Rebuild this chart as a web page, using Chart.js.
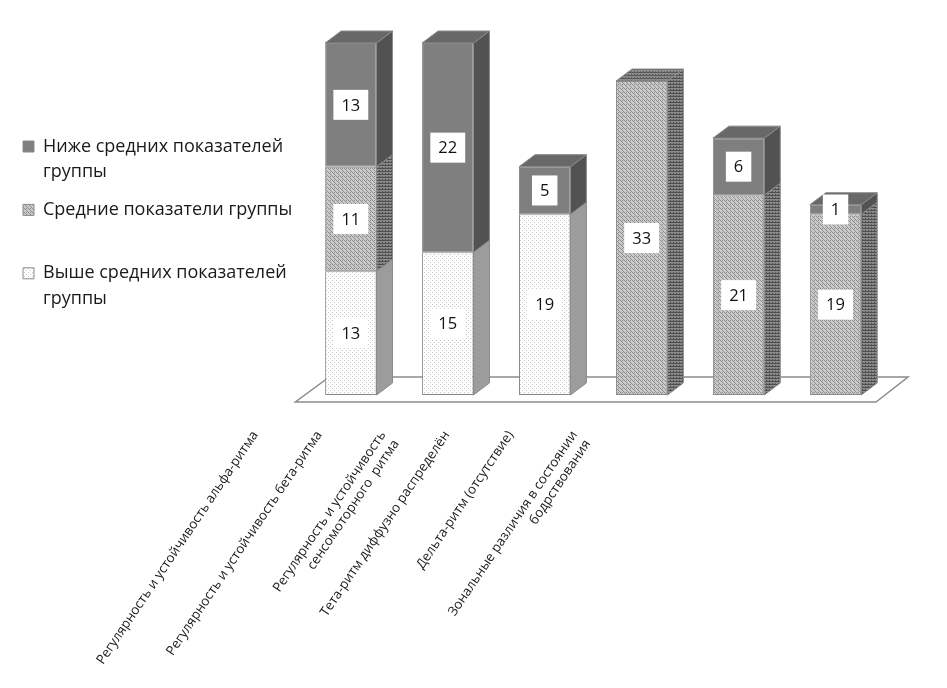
<!DOCTYPE html>
<html>
<head>
<meta charset="utf-8">
<script src="https://cdn.jsdelivr.net/npm/chart.js@4"></script>
<style>
  html, body { margin: 0; padding: 0; background: #fff; }
  #wrap { width: 947px; height: 688px; position: relative; }
</style>
</head>
<body>
<div id="wrap"><canvas id="myChart"></canvas></div>
<script>
// Categories (x axis labels)
const categories = [
  ['Регулярность и устойчивость альфа-ритма'],
  ['Регулярность и устойчивость бета-ритма'],
  ['Регулярность и устойчивость', 'сенсомоторного  ритма'],
  ['Тета-ритм диффузно распределён'],
  ['Дельта-ритм (отсутствие)'],
  ['Зональные различия в состоянии', 'бодрствования']
];

// Series names (bottom to top of the stack)
const seriesNames = [
  'Выше средних показателей группы',
  'Средние показатели группы',
  'Ниже средних показателей группы'
];
// Legend text, wrapped like in the picture
const legendLines = [
  ['Выше средних показателей', 'группы'],
  ['Средние показатели группы'],
  ['Ниже средних показателей', 'группы']
];

// Values
const aboveAvg = [13, 15, 19, null, null, null];
const avgValues = [11, null, null, 33, 21, 19];
const belowAvg = [13, 22, 5, null, 6, 1];

// ---- patterns
const canvas = document.getElementById('myChart');
const mainCtx = canvas.getContext('2d');
function makePattern(w, h, bg, fg, pts) {
  const c = document.createElement('canvas');
  c.width = w; c.height = h;
  const g = c.getContext('2d');
  g.fillStyle = bg;
  g.fillRect(0, 0, w, h);
  g.fillStyle = fg;
  pts.forEach(p => g.fillRect(p[0], p[1], 1, 1));
  return mainCtx.createPattern(c, 'repeat');
}
const dotFront = makePattern(4, 4, '#fdfdfd', '#c8c8c8', [[0, 0], [2, 2]]);
const hatchFront = makePattern(4, 4, '#c9c9c9', '#8f8f8f', [[0, 0], [1, 1], [2, 2], [3, 3], [2, 0]]);
const hatchSide = makePattern(3, 3, '#8a8a8a', '#4e4e4e', [[0, 0], [1, 0], [2, 0], [1, 2]]);
const hatchTop = makePattern(3, 3, '#8c8c8c', '#5a5a5a', [[0, 0], [1, 0], [2, 0], [1, 2]]);

const frontFill = [dotFront, hatchFront, '#7f7f7f'];
const sideFill = ['#9c9c9c', hatchSide, '#525252'];
const topFill = ['#d0d0d0', hatchTop, '#686868'];
const edgeColor = '#8a8a8a';

const depth = { dx: 16, dy: 12 };

// 3D look: floor, side and top faces, value boxes
const bar3d = {
  id: 'bar3d',
  beforeDatasetsDraw(chart) {
    const { ctx, chartArea: a, scales: { y } } = chart;
    const base = y.getPixelForValue(0);
    ctx.save();
    ctx.strokeStyle = '#8c8c8c';
    ctx.lineWidth = 1.5;
    ctx.beginPath();
    ctx.moveTo(a.left - 7, base + 7);
    ctx.lineTo(a.right - 8, base + 7);
    ctx.lineTo(a.right + 24, base - 18);
    ctx.lineTo(a.left + 27, base - 18);
    ctx.closePath();
    ctx.stroke();
    ctx.restore();
  },
  afterDatasetsDraw(chart) {
    const ctx = chart.ctx;
    const n = chart.data.labels.length;
    ctx.save();
    ctx.strokeStyle = edgeColor;
    ctx.lineWidth = 1;
    for (let i = 0; i < n; i++) {
      let top = -1;
      chart.data.datasets.forEach((ds, d) => { if (ds.data[i] != null) top = d; });
      chart.data.datasets.forEach((ds, d) => {
        if (ds.data[i] == null) return;
        const el = chart.getDatasetMeta(d).data[i];
        const { x, y, base, width } = el.getProps(['x', 'y', 'base', 'width'], true);
        const l = x - width / 2, r = x + width / 2;
        ctx.fillStyle = sideFill[d];
        ctx.beginPath();
        ctx.moveTo(r, y);
        ctx.lineTo(r + depth.dx, y - depth.dy);
        ctx.lineTo(r + depth.dx, base - depth.dy);
        ctx.lineTo(r, base);
        ctx.closePath();
        ctx.fill();
        ctx.stroke();
        if (d === top) {
          ctx.fillStyle = topFill[d];
          ctx.beginPath();
          ctx.moveTo(l, y);
          ctx.lineTo(l + depth.dx, y - depth.dy);
          ctx.lineTo(r + depth.dx, y - depth.dy);
          ctx.lineTo(r, y);
          ctx.closePath();
          ctx.fill();
          ctx.stroke();
        }
      });
    }
    // value boxes
    ctx.font = '16.5px "Open Sans", sans-serif';
    ctx.textAlign = 'center';
    ctx.textBaseline = 'middle';
    chart.data.datasets.forEach((ds, d) => {
      chart.getDatasetMeta(d).data.forEach((el, i) => {
        const v = ds.data[i];
        if (v == null) return;
        const { x, y, base } = el.getProps(['x', 'y', 'base'], true);
        const cy = (y + base) / 2;
        const txt = String(v);
        const w = ctx.measureText(txt).width + 16;
        ctx.fillStyle = '#ffffff';
        ctx.fillRect(x - w / 2, cy - 15, w, 30);
        ctx.fillStyle = '#111';
        ctx.fillText(txt, x, cy + 1);
      });
    });
    ctx.restore();
  }
};

new Chart(canvas, {
  type: 'bar',
  data: {
    labels: categories,
    datasets: [
      { label: seriesNames[0], data: aboveAvg },
      { label: seriesNames[1], data: avgValues },
      { label: seriesNames[2], data: belowAvg }
    ].map((ds, d) => Object.assign(ds, {
      backgroundColor: frontFill[d],
      borderColor: edgeColor,
      borderWidth: 1,
      borderSkipped: false,
      barPercentage: 0.53,
      categoryPercentage: 1,
      clip: false
    }))
  },
  options: {
    responsive: true,
    maintainAspectRatio: false,
    animation: false,
    layout: { padding: { left: 10, top: 43, right: 63, bottom: 0 } },
    plugins: {
      tooltip: { enabled: false },
      legend: {
        position: 'left',
        fullSize: false,
        reverse: true,
        title: { display: true, text: '', font: { size: 6 }, padding: { top: 7, bottom: 0 } },
        labels: {
          boxWidth: 11,
          boxHeight: 11,
          padding: 13,
          color: '#1a1a1a',
          font: { family: '"Open Sans", sans-serif', size: 18, lineHeight: 1.4 },
          generateLabels(chart) {
            const items = Chart.defaults.plugins.legend.labels.generateLabels(chart);
            items.forEach(it => {
              const lines = legendLines[it.datasetIndex].slice();
              if (lines.length < 2) lines.push('');
              it.text = lines;
            });
            return items;
          }
        }
      }
    },
    scales: {
      x: {
        stacked: true,
        display: false
      },
      y: {
        stacked: true,
        display: false,
        min: 0,
        max: 37
      },
      x2: {
        type: 'linear',
        axis: 'x',
        position: 'bottom',
        offset: false,
        min: 0,
        max: 9.11,
        grid: { display: false, offset: false },
        border: { display: false },
        afterFit(scale) { scale.height = 293; },
        ticks: {
          stepSize: 1,
          autoSkip: false,
          minRotation: 56,
          maxRotation: 56,
          labelOffset: -47,
          padding: 25,
          color: '#1a1a1a',
          font: { family: '"Open Sans", sans-serif', size: 13.25 },
          callback: (v) => categories[v]
        }
      }
    }
  },
  plugins: [bar3d]
});
</script>
</body>
</html>
